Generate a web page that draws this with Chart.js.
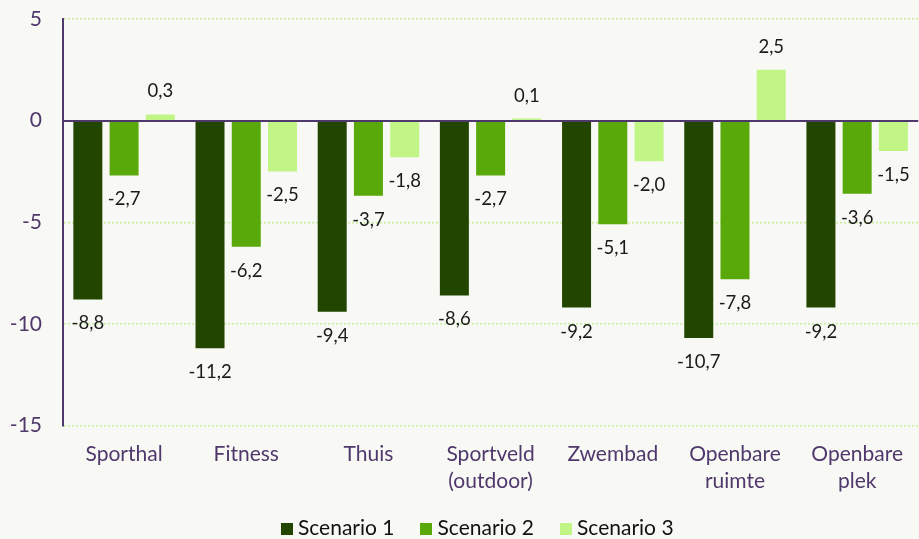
<!DOCTYPE html>
<html>
<head>
<meta charset="utf-8">
<script src="https://cdn.jsdelivr.net/npm/chart.js@4"></script>
<style>
  html, body { margin:0; padding:0; background:#f8f8f4; }
  #wrap { width:919px; height:539px; position:relative; }
</style>
</head>
<body>
<div id="wrap"><canvas id="chart"></canvas></div>
<script>
// ========== DATA ==========
const CATEGORIES = ['Sporthal', 'Fitness', 'Thuis', ['Sportveld', '(outdoor)'], 'Zwembad', ['Openbare', 'ruimte'], ['Openbare', 'plek']];
const SCENARIO_1 = [-8.8, -11.2, -9.4, -8.6, -9.2, -10.7, -9.2];
const SCENARIO_2 = [-2.7, -6.2, -3.7, -2.7, -5.1, -7.8, -3.6];
const SCENARIO_3 = [0.3, -2.5, -1.8, 0.1, -2.0, 2.5, -1.5];
const SERIES_NAMES = ['Scenario 1', 'Scenario 2', 'Scenario 3'];
const Y_MIN = -15, Y_MAX = 5, Y_STEP = 5;

// ========== STYLE ==========
const COLORS = ['#224600', '#5aa90a', '#c1f585'];
const PURPLE = '#4f386c';
const GRID   = '#c8f09a';
const FONT   = 'Lato, "Open Sans", sans-serif';
const LEGEND_DX = 17, LEGEND_DY = -5;

const fmt = v => v.toFixed(1).replace('.', ',');

// 12px square legend swatch (lets the text sit close to the box)
function swatch(color){
  const c = document.createElement('canvas');
  c.width = c.height = 12;
  const g = c.getContext('2d');
  g.fillStyle = color; g.fillRect(0, 0, 12, 12);
  return c;
}

// value labels at bar ends + zero line over bars
const barLabels = {
  id: 'barLabels',
  afterLayout(chart){
    const lg = chart.legend;
    lg.left += LEGEND_DX; lg.right += LEGEND_DX;
    lg.top += LEGEND_DY; lg.bottom += LEGEND_DY;
  },
  afterDatasetsDraw(chart){
    const {ctx, chartArea, scales:{y}} = chart;
    const y0 = Math.round(y.getPixelForValue(0));
    ctx.save();
    ctx.strokeStyle = PURPLE; ctx.lineWidth = 2;
    ctx.beginPath(); ctx.moveTo(chartArea.left, y0); ctx.lineTo(chartArea.right, y0); ctx.stroke();

    ctx.font = `18.5px ${FONT}`;
    ctx.fillStyle = '#1a1a1a';
    ctx.textAlign = 'center';
    ctx.textBaseline = 'middle';
    chart.data.datasets.forEach((ds, i)=>{
      chart.getDatasetMeta(i).data.forEach((bar, j)=>{
        const v = ds.data[j];
        const ty = v < 0 ? bar.y + 24 : bar.y - 23;
        ctx.fillText(fmt(v), bar.x, ty);
      });
    });
    ctx.restore();
  }
};

new Chart(document.getElementById('chart'), {
  type: 'bar',
  data: {
    labels: CATEGORIES,
    datasets: [SCENARIO_1, SCENARIO_2, SCENARIO_3].map((d, i)=>({
      label: SERIES_NAMES[i], data: d, backgroundColor: COLORS[i], pointStyle: swatch(COLORS[i]),
      categoryPercentage: 0.89, barPercentage: 0.8
    }))
  },
  options: {
    responsive: true, maintainAspectRatio: false, animation: false,
    layout: { padding: { top: 19, right: -7, left: 0, bottom: -15 } },
    plugins: {
      tooltip: { enabled: false },
      legend: {
        position: 'bottom',
        labels: { color: '#111', font: { family: FONT, size: 21 }, usePointStyle: true, pointStyleWidth: 1,
                  boxHeight: 12, padding: 31.5 }
      }
    },
    scales: {
      x: {
        afterFit: s => { s.height = 66; },
        grid: { display: false, drawTicks: false },
        border: { display: false },
        ticks: { color: PURPLE, font: { family: FONT, size: 21, lineHeight: 1.25 }, padding: 16, maxRotation: 0, autoSkip: false }
      },
      y: {
        min: Y_MIN, max: Y_MAX,
        afterFit: s => { s.width = 63; s.paddingTop = 0; s.paddingBottom = 0; },
        grid: { color: GRID, lineWidth: 1.5, drawTicks: false },
        border: { color: PURPLE, width: 2, dash: [2, 2] },
        ticks: { stepSize: Y_STEP, color: PURPLE, font: { family: FONT, size: 21 }, padding: 21 }
      }
    }
  },
  plugins: [barLabels]
});
</script>
</body>
</html>
